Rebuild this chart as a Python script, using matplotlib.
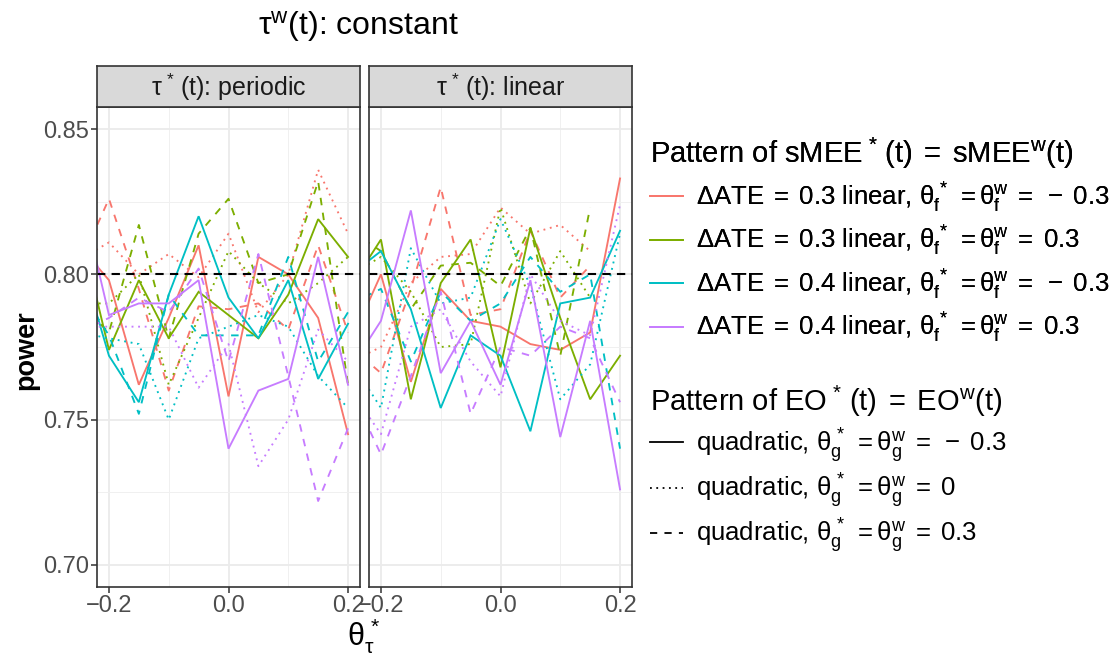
import numpy as np
import matplotlib
matplotlib.use("Agg")
import matplotlib.pyplot as plt
from matplotlib.lines import Line2D

plt.rcParams['font.family'] = ['Liberation Sans', 'DejaVu Sans']
plt.rcParams['mathtext.fontset'] = 'custom'
plt.rcParams['mathtext.rm'] = 'Liberation Sans'
plt.rcParams['mathtext.it'] = 'Liberation Sans:italic'
plt.rcParams['mathtext.bf'] = 'Liberation Sans:bold'

nan = np.nan
theta = [-0.25, -0.2, -0.15, -0.1, -0.05, 0.0, 0.05, 0.1, 0.15, 0.2]

# ---- panel: tau*(t) periodic ----
per_red_solid    = [0.810, 0.798, 0.762, 0.785, 0.810, 0.758, 0.806, 0.800, 0.785, 0.745]
per_red_dotted   = [0.805, 0.811, 0.800, 0.807, 0.799, 0.814, 0.787, 0.800, 0.836, 0.814]
per_red_dashed   = [0.803, 0.826, 0.795, 0.760, 0.789, 0.788, 0.790, 0.781, 0.810, 0.780]
per_green_solid  = [0.817, 0.774, 0.798, 0.778, 0.794, 0.786, 0.778, 0.793, 0.819, 0.806]
per_green_dotted = [0.790, 0.790, 0.800, 0.762, 0.785, 0.808, 0.797, 0.790, 0.797, 0.806]
per_green_dashed = [0.790, 0.780, 0.817, 0.778, 0.814, 0.826, 0.797, 0.800, 0.832, 0.762]
per_cyan_solid   = [0.807, 0.772, 0.756, 0.793, 0.820, 0.792, 0.778, 0.798, 0.764, 0.783]
per_cyan_dotted  = [0.780, 0.778, 0.776, 0.750, 0.778, 0.782, 0.786, 0.782, 0.765, 0.754]
per_cyan_dashed  = [0.795, 0.779, 0.752, 0.793, 0.779, 0.779, 0.779, 0.806, 0.770, 0.787]
per_purple_solid = [0.830, 0.786, 0.790, 0.790, 0.798, 0.740, 0.760, 0.764, 0.806, 0.762]
per_purple_dotted= [0.782, 0.782, 0.782, 0.782, 0.761, 0.776, 0.734, 0.750, 0.781, 0.770]
per_purple_dashed= [0.780, 0.785, 0.792, 0.787, 0.802, 0.770, 0.807, 0.765, 0.722, 0.747]

# ---- panel: tau*(t) linear ----
lin_red_solid    = [0.777, 0.800, 0.763, 0.795, 0.784, 0.782, 0.776, 0.774, 0.780, 0.833]
lin_red_dotted   = [0.770, 0.775, 0.797, 0.806, 0.807, 0.823, 0.814, 0.817, 0.808, nan]
lin_red_dashed   = [0.775, 0.766, 0.795, 0.830, 0.786, 0.788, 0.815, 0.792, 0.803, nan]
lin_green_solid  = [0.796, 0.812, 0.757, 0.797, 0.812, 0.768, 0.816, 0.785, 0.757, 0.772]
lin_green_dotted = [0.800, 0.806, 0.794, 0.775, 0.776, 0.823, 0.790, 0.808, 0.792, nan]
lin_green_dashed = [0.815, 0.808, 0.788, 0.803, 0.804, 0.796, 0.816, 0.772, 0.823, nan]
lin_cyan_solid   = [0.800, 0.808, 0.788, 0.754, 0.779, 0.772, 0.746, 0.790, 0.792, 0.815]
lin_cyan_dotted  = [0.770, 0.754, 0.809, 0.790, 0.792, 0.819, 0.796, 0.757, 0.769, 0.814]
lin_cyan_dashed  = [0.790, 0.795, 0.770, 0.794, 0.784, 0.790, 0.806, 0.794, 0.800, 0.740]
lin_purple_solid = [0.768, 0.784, 0.822, 0.766, 0.784, 0.762, 0.798, 0.744, 0.784, 0.726]
lin_purple_dotted= [0.760, 0.745, 0.782, 0.788, 0.770, 0.758, 0.800, 0.784, 0.779, 0.824]
lin_purple_dashed= [0.760, 0.738, 0.765, 0.794, 0.752, 0.775, 0.772, 0.782, 0.778, 0.756]

target_power = 0.80
facet_labels = [r'$\mathrm{\tau}^{\,*}\,$(t): periodic', r'$\mathrm{\tau}^{\,*}\,$(t): linear']
main_title = r'$\mathrm{\tau}^{\mathrm{w}}$(t): constant'

colour_labels = [
    r'$\Delta$ATE$\;=\;$0.3 linear, $\mathrm{\theta}_{\mathrm{f}}^{\,*}\;=\mathrm{\theta}_{\mathrm{f}}^{\mathrm{w}}\;=\;-\;0.3$',
    r'$\Delta$ATE$\;=\;$0.3 linear, $\mathrm{\theta}_{\mathrm{f}}^{\,*}\;=\mathrm{\theta}_{\mathrm{f}}^{\mathrm{w}}\;=\;0.3$',
    r'$\Delta$ATE$\;=\;$0.4 linear, $\mathrm{\theta}_{\mathrm{f}}^{\,*}\;=\mathrm{\theta}_{\mathrm{f}}^{\mathrm{w}}\;=\;-\;0.3$',
    r'$\Delta$ATE$\;=\;$0.4 linear, $\mathrm{\theta}_{\mathrm{f}}^{\,*}\;=\mathrm{\theta}_{\mathrm{f}}^{\mathrm{w}}\;=\;0.3$',
]
ltype_labels = [
    r'quadratic, $\mathrm{\theta}_{\mathrm{g}}^{\,*}\;=\mathrm{\theta}_{\mathrm{g}}^{\mathrm{w}}\;=\;-\;0.3$',
    r'quadratic, $\mathrm{\theta}_{\mathrm{g}}^{\,*}\;=\mathrm{\theta}_{\mathrm{g}}^{\mathrm{w}}\;=\;0$',
    r'quadratic, $\mathrm{\theta}_{\mathrm{g}}^{\,*}\;=\mathrm{\theta}_{\mathrm{g}}^{\mathrm{w}}\;=\;0.3$',
]
colour_title = r'Pattern of sMEE$^{\,*}\,$(t)$\;=\;$sMEE$^{\mathrm{w}}$(t)'
ltype_title = r'Pattern of EO$^{\,*}\,$(t)$\;=\;$EO$^{\mathrm{w}}$(t)'
colours = ['#F8766D', '#7CAE00', '#00BFC4', '#C77CFF']
ltypes = ['-', (0, (1, 2.5)), (0, (4, 4))]

panels = [
    [[per_red_solid, per_red_dotted, per_red_dashed],
     [per_green_solid, per_green_dotted, per_green_dashed],
     [per_cyan_solid, per_cyan_dotted, per_cyan_dashed],
     [per_purple_solid, per_purple_dotted, per_purple_dashed]],
    [[lin_red_solid, lin_red_dotted, lin_red_dashed],
     [lin_green_solid, lin_green_dotted, lin_green_dashed],
     [lin_cyan_solid, lin_cyan_dotted, lin_cyan_dashed],
     [lin_purple_solid, lin_purple_dotted, lin_purple_dashed]],
]

W, H = 1111, 660
fig = plt.figure(figsize=(W / 100, H / 100), dpi=100)

def fx(px): return px / W
def fy(py): return 1 - py / H

panel_left = [97, 369]
panel_w = 263
p_top, p_bot = 107, 587
strip_top = 66
grey = '#4D4D4D'

for i in range(2):
    ax = fig.add_axes([fx(panel_left[i]), fy(p_bot), fx(panel_w), (p_bot - p_top) / H])
    ax.set_xlim(-0.22, 0.22)
    ax.set_ylim(0.6924, 0.8576)
    ax.set_xticks([-0.2, 0.0, 0.2])
    ax.set_xticks([-0.1, 0.1], minor=True)
    ax.set_yticks([0.70, 0.75, 0.80, 0.85])
    ax.set_yticks([0.725, 0.775, 0.825], minor=True)
    ax.grid(True, which='major', color='#EBEBEB', lw=1.3)
    ax.grid(True, which='minor', color='#F0F0F0', lw=0.7)
    ax.set_axisbelow(True)
    for s in ax.spines.values():
        s.set_color('#333333')
        s.set_linewidth(1.2)
    ax.tick_params(which='major', length=4, width=1.1, color='#333333',
                   labelsize=17, labelcolor=grey, pad=2)
    ax.tick_params(which='minor', length=0)
    ax.set_xticklabels(['\u22120.2', '0.0', '0.2'])
    if i == 0:
        ax.set_yticklabels(['0.70', '0.75', '0.80', '0.85'])
    else:
        ax.tick_params(axis='y', which='major', length=0, labelleft=False)
    for c in range(4):
        for l in range(3):
            ax.plot(theta, panels[i][c][l], color=colours[c], linestyle=ltypes[l],
                    lw=1.35, solid_joinstyle='miter')
    ax.axhline(target_power, color='black', lw=1.5, linestyle=(0, (4, 3)))

    sax = fig.add_axes([fx(panel_left[i]), fy(p_top), fx(panel_w), (p_top - strip_top) / H])
    sax.set_facecolor('#D9D9D9')
    sax.set_xticks([]); sax.set_yticks([])
    for s in sax.spines.values():
        s.set_color('#333333')
        s.set_linewidth(1.2)
    sax.text(0.5, 0.47, facet_labels[i], ha='center', va='center', fontsize=18,
             color='#1A1A1A', transform=sax.transAxes)

fig.text(fx(358), fy(27), main_title, ha='center', va='center', fontsize=23)
fig.text(fx(26), fy(350), 'power', ha='center', va='center', rotation=90,
         fontsize=19.5, fontweight='bold')
fig.text(fx(364), fy(636), r'$\mathrm{\theta}_{\mathrm{\tau}}^{\,*}$', ha='center', va='center', fontsize=22)

h1 = [Line2D([], [], color=c, lw=1.3) for c in colours]
leg1 = fig.legend(h1, colour_labels, loc='upper left', bbox_to_anchor=(fx(650), fy(136)),
                  frameon=False, fontsize=18.5, title=colour_title,
                  title_fontsize=21, alignment='left', handlelength=1.3, handletextpad=0.5,
                  labelspacing=0.36, borderpad=0, borderaxespad=0)
fig.add_artist(leg1)
h2 = [Line2D([], [], color='black', lw=1.3, linestyle=lt) for lt in ltypes]
fig.legend(h2, ltype_labels, loc='upper left', bbox_to_anchor=(fx(650), fy(384)),
           frameon=False, fontsize=18.5, title=ltype_title,
           title_fontsize=21, alignment='left', handlelength=1.3, handletextpad=0.5,
           labelspacing=0.26, borderpad=0, borderaxespad=0)

fig.savefig('out.png', dpi=100)
